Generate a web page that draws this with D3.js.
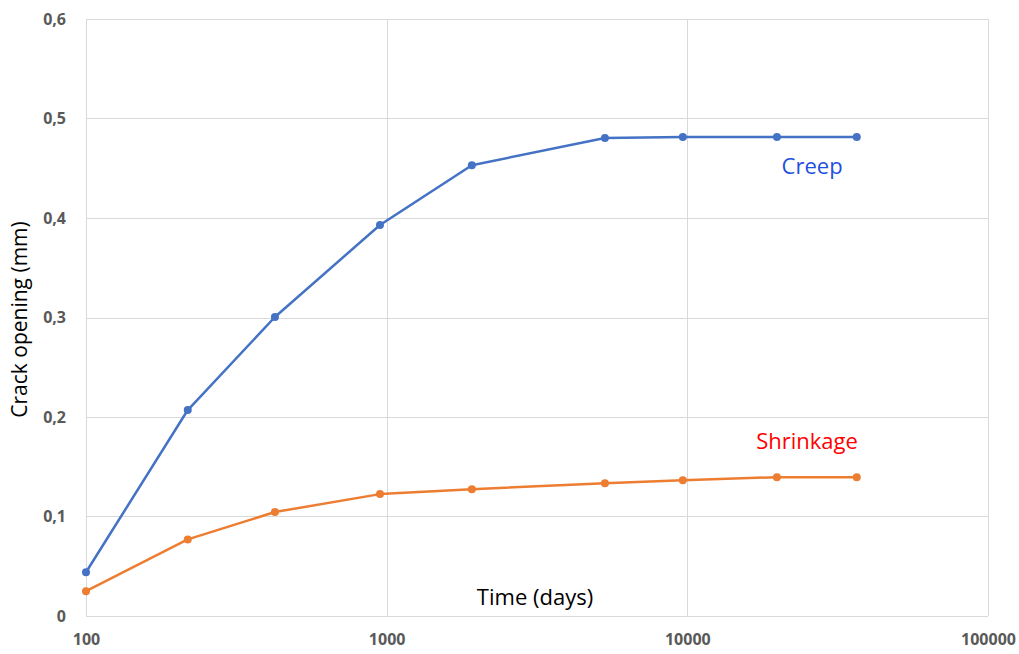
<!DOCTYPE html>
<html lang="en">
<head>
  <meta charset="UTF-8">
  <title>Crack opening vs time</title>
  <script src="https://d3js.org/d3.v7.min.js"></script>
  <style>
    body { margin: 0; background: #fff; }
    svg { display: block; }
  </style>
</head>
<body>
  <svg id="chart"></svg>

  <script>
    // data
    const days = [100, 218, 425, 950, 1920, 5320, 9660, 19860, 36600];
    const creep = [0.044, 0.207, 0.3005, 0.393, 0.453, 0.4805, 0.4815, 0.4815, 0.4815];
    const shrinkage = [0.025, 0.077, 0.1045, 0.1225, 0.1275, 0.1335, 0.1365, 0.1395, 0.1395];
    const xTicks = [100, 1000, 10000, 100000];
    const yTicks = [0, 0.1, 0.2, 0.3, 0.4, 0.5, 0.6];

    const width = 1019, height = 654;
    const margin = { top: 19, right: 31, bottom: 38, left: 86 };

    const svg = d3.select("#chart")
      .attr("width", width)
      .attr("height", height);

    const x = d3.scaleLog()
      .domain([100, 100000])
      .range([margin.left, width - margin.right]);

    const y = d3.scaleLinear()
      .domain([0, 0.6])
      .range([height - margin.bottom, margin.top]);

    const font = "'Open Sans', 'Noto Sans', sans-serif";

    // gridlines
    svg.append("g")
      .selectAll("line")
      .data(yTicks)
      .enter().append("line")
      .attr("x1", x(100)).attr("x2", x(100000))
      .attr("y1", d => Math.round(y(d)) + 0.5)
      .attr("y2", d => Math.round(y(d)) + 0.5)
      .style("stroke", "#d9d9d9")
      .style("stroke-width", 1);

    svg.append("g")
      .selectAll("line")
      .data(xTicks)
      .enter().append("line")
      .attr("x1", d => Math.round(x(d)) + 0.5)
      .attr("x2", d => Math.round(x(d)) + 0.5)
      .attr("y1", y(0)).attr("y2", y(0.6))
      .style("stroke", "#d9d9d9")
      .style("stroke-width", 1);

    // axes (labels only, Excel-like)
    const yAxis = svg.append("g")
      .attr("transform", `translate(${margin.left},0)`)
      .call(d3.axisLeft(y).tickValues(yTicks).tickSize(0).tickPadding(20)
        .tickFormat(d => d === 0 ? "0" : d3.format(".1f")(d).replace(".", ",")));
    yAxis.select(".domain").remove();
    yAxis.selectAll("text")
      .style("font-family", font)
      .style("font-size", "16px")
      .style("font-weight", "bold")
      .style("fill", "#595959");

    const xAxis = svg.append("g")
      .attr("transform", `translate(0,${height - margin.bottom})`)
      .call(d3.axisBottom(x).tickValues(xTicks).tickSize(0).tickPadding(18)
        .tickFormat(d3.format("d")));
    xAxis.select(".domain").remove();
    xAxis.selectAll("text")
      .style("font-family", font)
      .style("font-size", "16px")
      .style("font-weight", "bold")
      .style("fill", "#595959");

    // series
    const series = [
      { name: "Creep", values: creep, color: "#4472c4" },
      { name: "Shrinkage", values: shrinkage, color: "#ed7d31" }
    ];

    const line = d3.line()
      .x((d, i) => x(days[i]))
      .y(d => y(d));

    series.forEach(s => {
      svg.append("path")
        .datum(s.values)
        .attr("d", line)
        .style("fill", "none")
        .style("stroke", s.color)
        .style("stroke-width", 2.5)
        .style("stroke-linejoin", "round");

      svg.append("g")
        .selectAll("circle")
        .data(s.values)
        .enter().append("circle")
        .attr("cx", (d, i) => x(days[i]))
        .attr("cy", d => y(d))
        .attr("r", 4)
        .style("fill", s.color);
    });

    // series labels
    svg.append("text")
      .attr("x", x(26000))
      .attr("y", y(0.4815) + 37)
      .attr("text-anchor", "middle")
      .style("font-family", font)
      .style("font-size", "22px")
      .style("fill", "#1f4fe0")
      .text("Creep");

    svg.append("text")
      .attr("x", x(25000))
      .attr("y", y(0.1395) - 28)
      .attr("text-anchor", "middle")
      .style("font-family", font)
      .style("font-size", "22px")
      .style("fill", "#ff0000")
      .text("Shrinkage");

    // axis titles
    svg.append("text")
      .attr("x", (x(100) + x(100000)) / 2 - 2)
      .attr("y", y(0) - 11)
      .attr("text-anchor", "middle")
      .style("font-family", font)
      .style("font-size", "22px")
      .style("fill", "#000")
      .text("Time (days)");

    svg.append("text")
      .attr("transform", `translate(27,${(y(0) + y(0.6)) / 2 + 2}) rotate(-90)`)
      .attr("text-anchor", "middle")
      .style("font-family", font)
      .style("font-size", "21px")
      .style("fill", "#000")
      .text("Crack opening (mm)");
  </script>
</body>
</html>
